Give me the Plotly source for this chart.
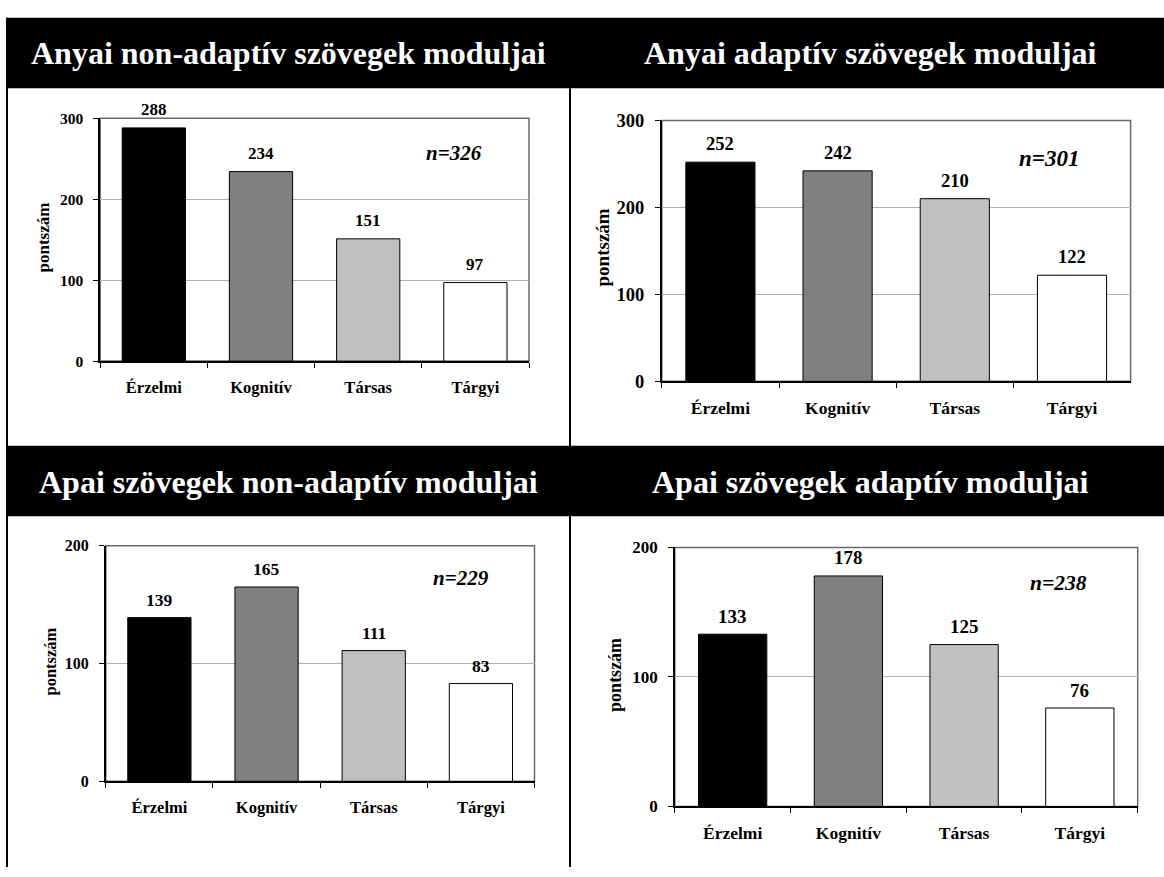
import plotly.graph_objects as go

# ---------------- data ----------------
categories = ["Érzelmi", "Kognitív", "Társas", "Tárgyi"]
anyai_non_adaptiv = [288, 234, 151, 97]
anyai_adaptiv = [252, 242, 210, 122]
apai_non_adaptiv = [139, 165, 111, 83]
apai_adaptiv = [133, 178, 125, 76]
panel_titles = [
    "Anyai non-adaptív szövegek moduljai",
    "Anyai adaptív szövegek moduljai",
    "Apai szövegek non-adaptív moduljai",
    "Apai szövegek adaptív moduljai",
]
n_labels = ["n=326", "n=301", "n=229", "n=238"]
y_max = [300, 300, 200, 200]
y_ticks_300 = [0, 100, 200, 300]
y_ticks_200 = [0, 100, 200]
y_axis_title = "pontszám"

series = [anyai_non_adaptiv, anyai_adaptiv, apai_non_adaptiv, apai_adaptiv]
y_ticks = [y_ticks_300, y_ticks_300, y_ticks_200, y_ticks_200]

# ---------------- layout helpers ----------------
W, H = 1164, 877
FONT = "Liberation Serif, Times New Roman, serif"
bar_colors = ["#000000", "#808080", "#c0c0c0", "#ffffff"]


def px(x):
    return x / W


def py(y):
    return 1 - y / H


# plot-area boxes in pixels: (left, right, top, bottom)
boxes = [
    (100.2, 529.0, 110.7, 359.3),
    (661.8, 1130.6, 113.0, 380.0),
    (105.8, 534.5, 548.3, 789.3),
    (674.8, 1137.7, 550.0, 815.0),
]
title_pos = [(288.6, 44.5), (870.6, 44.5), (288.5, 483.5), (870.6, 483.5)]
n_pos = [(453.8, 146.7), (1048.7, 152.0), (461.0, 581.7), (1058.0, 586.7)]
ytitle_pos = [(43.8, 233.0), (602.0, 243.0), (50.0, 666.7), (615.4, 680.0)]
# font sizes: tick, x labels, values, y title, n
sizes = [
    (15.5, 16.5, 17, 17, 21),
    (18.5, 17.5, 18.5, 19, 23),
    (16, 16.5, 17.5, 16.5, 21),
    (17, 17.5, 19, 18, 21.5),
]

fig = go.Figure()
annotations = []
shapes = []
layout_axes = {}

for i in range(4):
    xa = "x" if i == 0 else f"x{i+1}"
    ya = "y" if i == 0 else f"y{i+1}"
    l, r, t, b = boxes[i]
    ts, xs, vs, yts, ns = sizes[i]

    fig.add_trace(
        go.Bar(
            x=categories,
            y=series[i],
            marker=dict(color=bar_colors, line=dict(color="#000000", width=1)),
            xaxis=xa,
            yaxis=ya,
            showlegend=False,
            hoverinfo="x+y",
        )
    )

    layout_axes["xaxis" if i == 0 else f"xaxis{i+1}"] = dict(
        domain=[px(l), px(r)],
        anchor=ya,
        type="category",
        categoryorder="array",
        categoryarray=categories,
        showgrid=False,
        showline=True,
        linecolor="#000000",
        linewidth=1.5,
        ticks="outside",
        tickson="boundaries",
        ticklen=5,
        tickcolor="#000000",
        tickwidth=1,
        ticklabelstandoff=10,
        tickfont=dict(family=FONT, size=xs, color="#000000", weight="bold"),
        zeroline=False,
        fixedrange=True,
    )
    layout_axes["yaxis" if i == 0 else f"yaxis{i+1}"] = dict(
        domain=[py(b), py(t)],
        anchor=xa,
        range=[0, y_max[i]],
        tickvals=y_ticks[i],
        ticktext=[str(v) for v in y_ticks[i]],
        showgrid=True,
        gridcolor="#b0b0b0",
        gridwidth=1,
        showline=True,
        linecolor="#000000",
        linewidth=1.5,
        ticks="outside",
        ticklen=5,
        tickcolor="#000000",
        tickwidth=1,
        ticklabelstandoff=7,
        tickfont=dict(family=FONT, size=ts, color="#000000", weight="bold"),
        zeroline=False,
        fixedrange=True,
    )

    # plot-area border (gray)
    shapes.append(
        dict(
            type="rect",
            xref=f"{xa} domain",
            yref=f"{ya} domain",
            x0=0,
            x1=1,
            y0=0,
            y1=1,
            line=dict(color="#6a6a6a", width=1.5),
            layer="below",
        )
    )

    # value labels
    for c, v in zip(categories, series[i]):
        annotations.append(
            dict(
                x=c,
                y=v,
                xref=xa,
                yref=ya,
                text=f"<b>{v}</b>",
                showarrow=False,
                yanchor="middle",
                yshift=18,
                font=dict(family=FONT, size=vs, color="#000000"),
            )
        )

    # n label
    annotations.append(
        dict(
            x=px(n_pos[i][0]),
            y=py(n_pos[i][1]),
            xref="paper",
            yref="paper",
            text=f"<b><i>{n_labels[i]}</i></b>",
            showarrow=False,
            xanchor="center",
            yanchor="middle",
            font=dict(family=FONT, size=ns, color="#000000"),
        )
    )

    # y-axis title
    annotations.append(
        dict(
            x=px(ytitle_pos[i][0]),
            y=py(ytitle_pos[i][1]),
            xref="paper",
            yref="paper",
            text=f"<b>{y_axis_title}</b>",
            textangle=-90,
            showarrow=False,
            xanchor="center",
            yanchor="middle",
            font=dict(family=FONT, size=yts, color="#000000"),
        )
    )

    # panel title (white on black)
    annotations.append(
        dict(
            x=px(title_pos[i][0]),
            y=py(title_pos[i][1]),
            xref="paper",
            yref="paper",
            text=f"<b>{panel_titles[i]}</b>",
            showarrow=False,
            xanchor="center",
            yanchor="middle",
            font=dict(family=FONT, size=32, color="#ffffff"),
        )
    )

# black title bands
for (y0, y1) in [(8, 80), (446, 518)]:
    shapes.append(
        dict(
            type="rect",
            xref="paper",
            yref="paper",
            x0=px(6),
            x1=1,
            y0=py(y1),
            y1=py(y0),
            fillcolor="#000000",
            line=dict(width=0),
            layer="below",
        )
    )
# left border and central divider
shapes.append(
    dict(type="line", xref="paper", yref="paper", x0=px(7), x1=px(7),
         y0=py(8), y1=0, line=dict(color="#000000", width=2), layer="below")
)
shapes.append(
    dict(type="line", xref="paper", yref="paper", x0=px(570), x1=px(570),
         y0=py(80), y1=0, line=dict(color="#000000", width=2), layer="below")
)

fig.update_layout(
    width=W,
    height=H,
    margin=dict(l=0, r=0, t=0, b=0),
    paper_bgcolor="#ffffff",
    plot_bgcolor="rgba(0,0,0,0)",
    bargap=0.41,
    annotations=annotations,
    shapes=shapes,
    font=dict(family=FONT, color="#000000"),
    **layout_axes,
)

fig.write_html(
    "out.html",
    config={"displayModeBar": False},
    post_script="document.body.style.margin='0';document.body.style.overflow='hidden';",
)
